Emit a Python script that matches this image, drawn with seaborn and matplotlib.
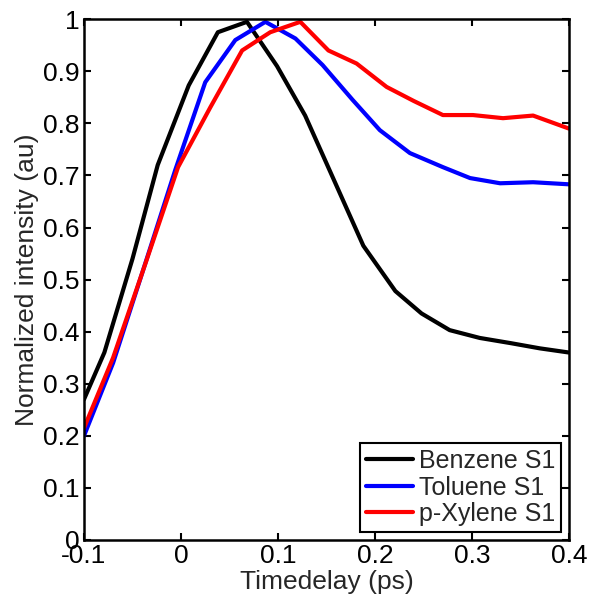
import numpy as np
import pandas as pd
import matplotlib
matplotlib.use("Agg")
import matplotlib.pyplot as plt
import seaborn as sns

# data (time delay in ps, normalized intensity)
benzene_t = [-0.1, -0.079, -0.05, -0.024, 0.008, 0.038, 0.068, 0.099, 0.128, 0.158,
             0.188, 0.221, 0.248, 0.277, 0.308, 0.34, 0.37, 0.4]
benzene_y = [0.27, 0.36, 0.54, 0.72, 0.873, 0.975, 0.995, 0.91, 0.815, 0.69,
             0.565, 0.478, 0.435, 0.403, 0.388, 0.378, 0.368, 0.36]

toluene_t = [-0.1, -0.07, -0.037, -0.006, 0.025, 0.056, 0.087, 0.118, 0.146, 0.177,
             0.205, 0.236, 0.27, 0.298, 0.329, 0.363, 0.4]
toluene_y = [0.2, 0.34, 0.53, 0.71, 0.879, 0.96, 0.995, 0.963, 0.912, 0.845,
             0.787, 0.743, 0.716, 0.695, 0.685, 0.687, 0.683]

xylene_t = [-0.1, -0.07, -0.035, -0.003, 0.03, 0.063, 0.092, 0.123, 0.152, 0.181,
            0.212, 0.24, 0.27, 0.301, 0.332, 0.363, 0.4]
xylene_y = [0.215, 0.35, 0.54, 0.716, 0.83, 0.94, 0.975, 0.995, 0.94, 0.915,
            0.87, 0.843, 0.816, 0.816, 0.81, 0.815, 0.79]

labels = ["Benzene S1", "Toluene S1", "p-Xylene S1"]
colors = ["#000000", "#0000ff", "#ff0000"]

df = pd.concat([
    pd.DataFrame({"t": benzene_t, "y": benzene_y, "species": labels[0]}),
    pd.DataFrame({"t": toluene_t, "y": toluene_y, "species": labels[1]}),
    pd.DataFrame({"t": xylene_t, "y": xylene_y, "species": labels[2]}),
], ignore_index=True)

sns.set_style("ticks")
plt.rcParams["font.family"] = ["Liberation Sans", "DejaVu Sans"]

fig = plt.figure(figsize=(5.89, 6.01), dpi=100)
ax = fig.add_axes([0.1426, 0.1015, 0.8234, 0.8665])

sns.lineplot(data=df, x="t", y="y", hue="species", hue_order=labels,
             palette=dict(zip(labels, colors)), linewidth=3, sort=False,
             estimator=None, ax=ax)

ax.set_xlim(-0.1, 0.4)
ax.set_ylim(0, 1)
ax.set_xticks([-0.1, 0, 0.1, 0.2, 0.3, 0.4])
ax.set_xticklabels(["-0.1", "0", "0.1", "0.2", "0.3", "0.4"])
ax.set_yticks(np.arange(0, 1.01, 0.1))
ax.set_yticklabels(["0", "0.1", "0.2", "0.3", "0.4", "0.5", "0.6", "0.7", "0.8", "0.9", "1"])
ax.tick_params(direction="in", length=5, width=1.5, top=True, right=True,
               labelsize=19, pad=3, colors="black")
for s in ax.spines.values():
    s.set_visible(True)
    s.set_linewidth(1.8)
    s.set_color("black")

ax.set_xlabel("Timedelay (ps)", fontsize=19, labelpad=1)
ax.set_ylabel("Normalized intensity (au)", fontsize=19, labelpad=3)

leg = ax.legend(loc="lower right", fontsize=18, frameon=True, fancybox=False,
                edgecolor="black", framealpha=1, handlelength=1.85,
                handletextpad=0.25, borderpad=0.25, labelspacing=0.1,
                borderaxespad=0.3)
leg.get_frame().set_linewidth(1.5)
for line in leg.get_lines():
    line.set_linewidth(3)

fig.savefig("out.png", dpi=100)
